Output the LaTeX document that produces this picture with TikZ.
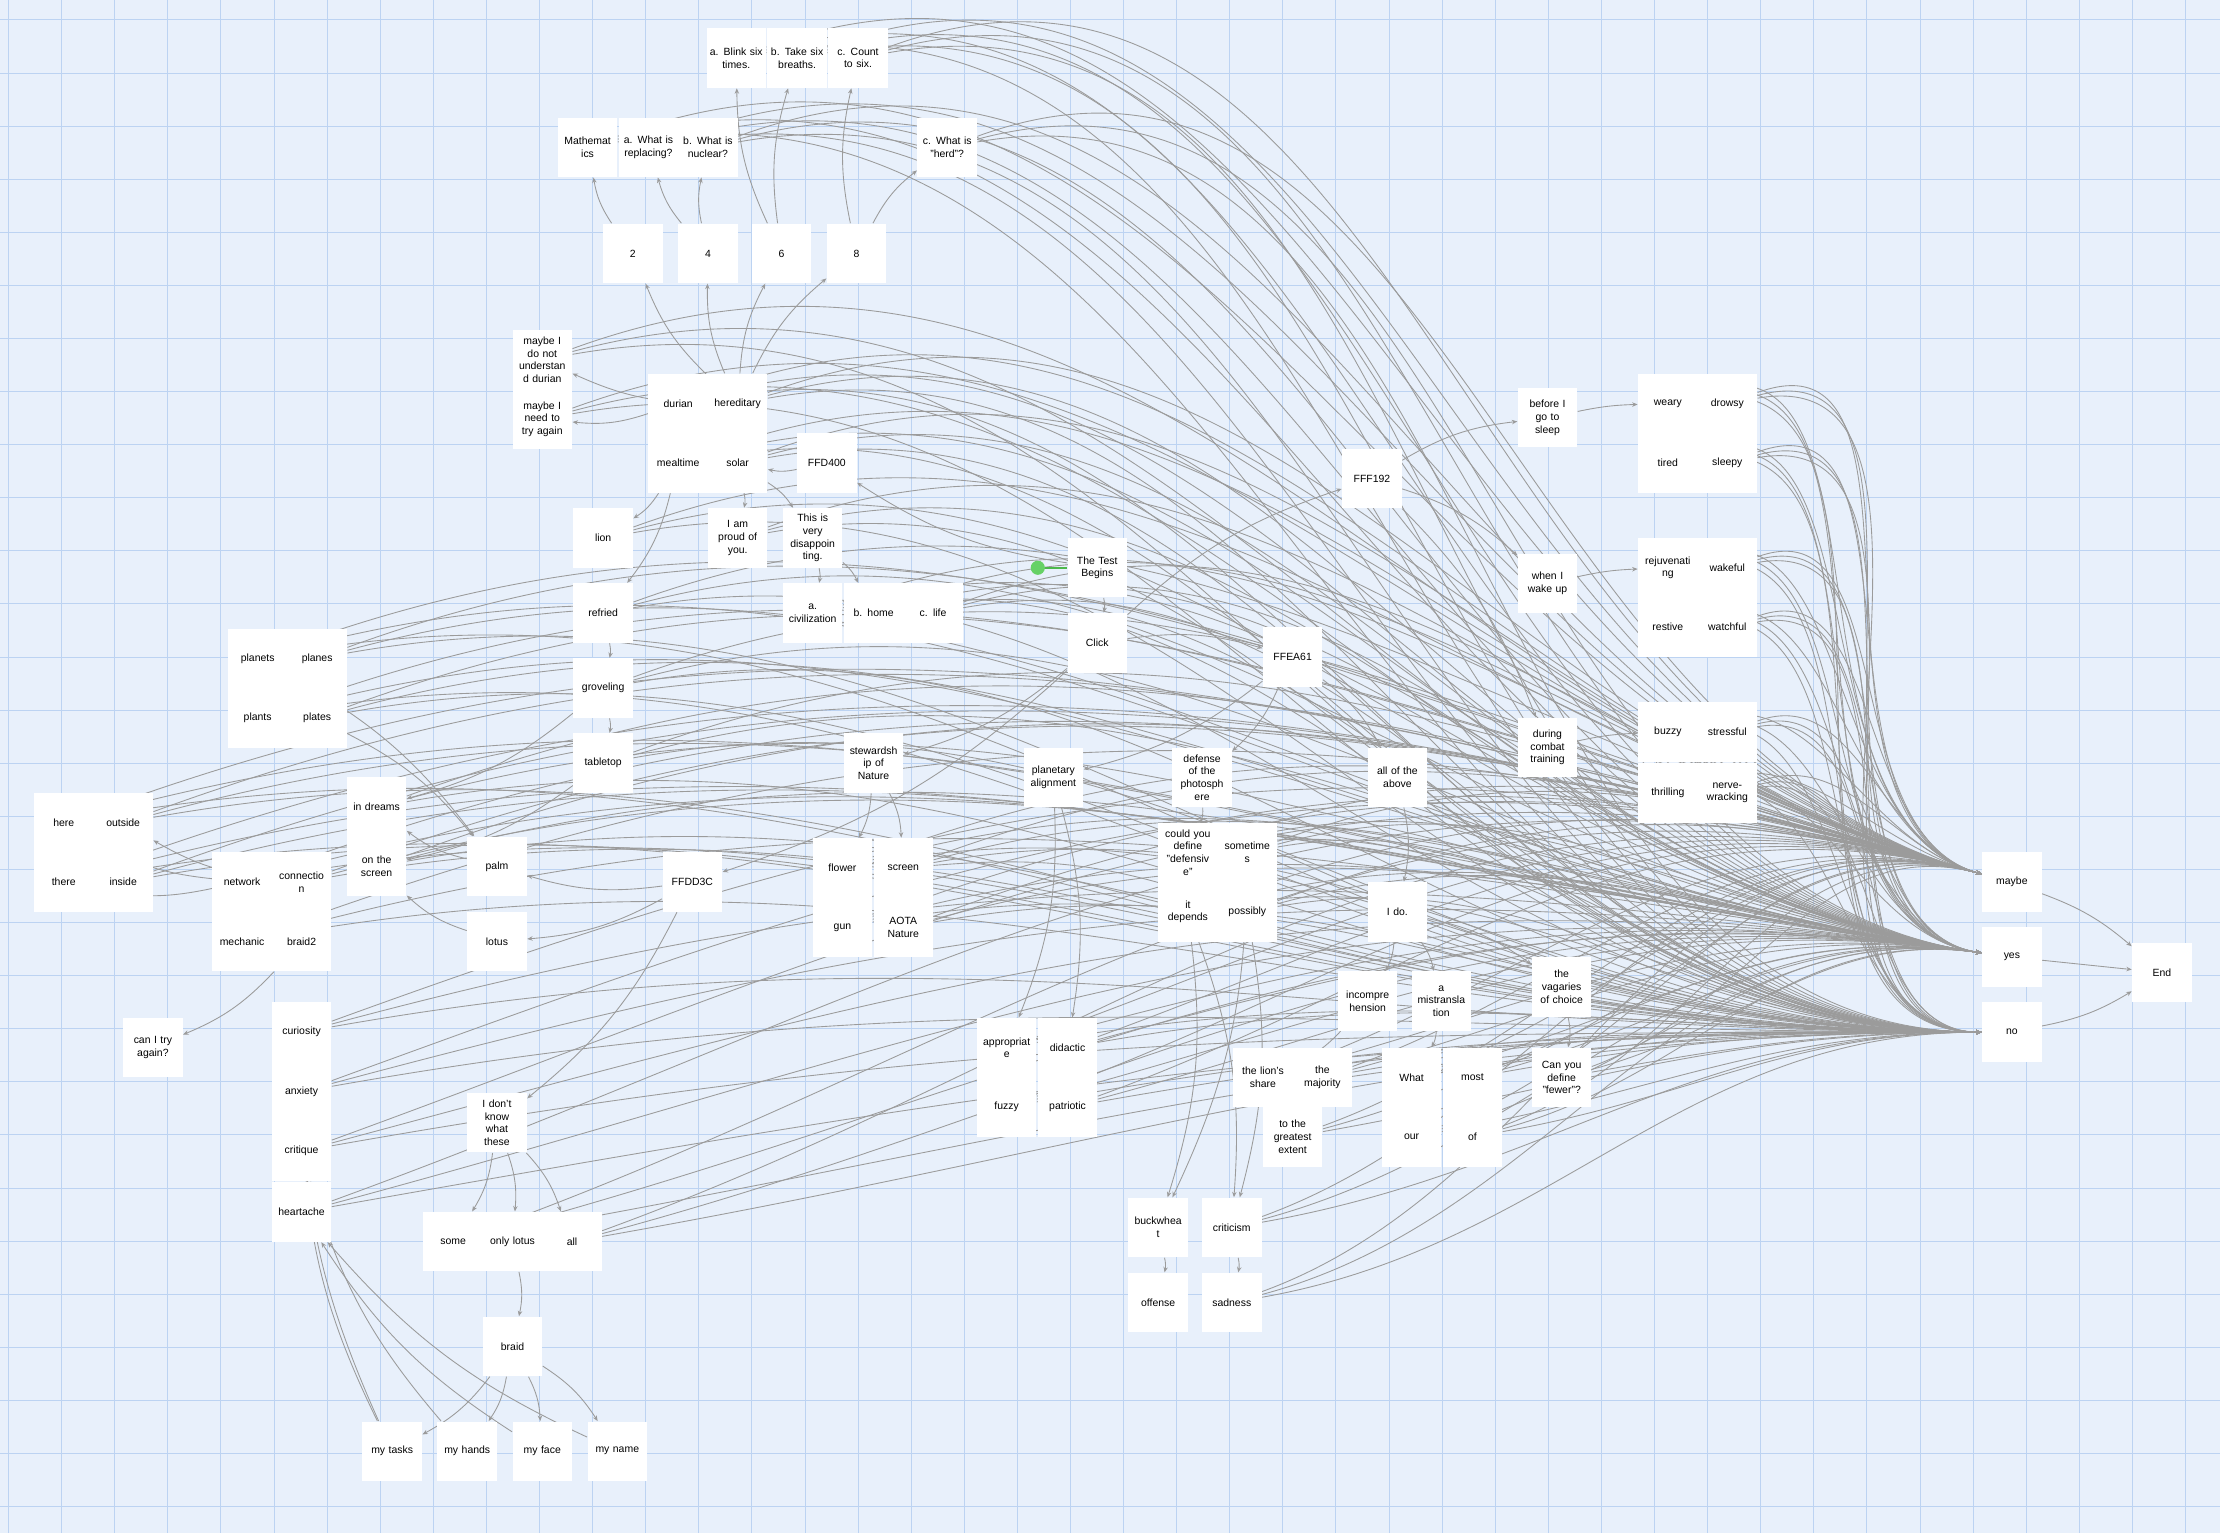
\documentclass[tikz,border=0pt]{standalone}
\usepackage{fontspec}
\setmainfont{Liberation Sans}
\usetikzlibrary{arrows.meta}
\pgfdeclarelayer{edges}
\pgfdeclarelayer{bgl}
\pgfsetlayers{bgl,edges,main}
\definecolor{bg}{HTML}{E8F0FB}
\definecolor{gridc}{HTML}{BCD3F2}
\definecolor{edgec}{HTML}{9B9B9B}
\tikzset{
 cell/.style={fill=white, minimum width=0.84cm, minimum height=0.84cm, text width=0.84cm, align=center, inner sep=0pt, font=\fontsize{4.2}{5.1}\selectfont},
 edge/.style={draw=edgec, line width=0.35pt, -{Stealth[length=2.2pt,width=1.8pt]}},
}
\begin{document}
\begin{tikzpicture}[x=0.02cm,y=-0.02cm]
\useasboundingbox (0,0) rectangle (1568,1083);
\clip (0,0) rectangle (1568,1083);
\begin{pgfonlayer}{bgl}
\fill[bg] (0,0) rectangle (1568,1083);
\foreach \i in {0,...,41} {\draw[gridc,line width=0.3pt] ({6+37.5*\i},0) -- ({6+37.5*\i},1083);}
\foreach \i in {0,...,29} {\draw[gridc,line width=0.3pt] (0,{14+37.5*\i}) -- (1568,{14+37.5*\i});}
\end{pgfonlayer}
% nodes
\node[cell] (blink) at (520,41) {a. Blink six\\times.};
\node[cell] (take) at (563,41) {b. Take six\\breaths.};
\node[cell] (count) at (606,41) {c. Count\\to six.};
\node[cell] (math) at (415,104) {Mathemat\\ics};
\node[cell] (repl) at (458,104) {a. What is\\replacing?};
\node[cell] (nucl) at (500,104) {b. What is\\nuclear?};
\node[cell] (herd) at (669,104) {c. What is\\"herd"?};
\node[cell] (t2) at (447,179) {2};
\node[cell] (t4) at (500,179) {4};
\node[cell] (t6) at (552,179) {6};
\node[cell] (t8) at (605,179) {8};
\node[cell] (mdu) at (383,254) {maybe I\\do not\\understan\\d durian};
\node[cell] (mta) at (383,296) {maybe I\\need to\\try again};
\node[cell] (durian) at (479,285) {durian};
\node[cell] (hered) at (521,285) {hereditary};
\node[cell] (meal) at (479,327) {mealtime};
\node[cell] (solar) at (521,327) {solar};
\node[cell] (ffd400) at (584,327) {FFD400};
\node[cell] (lion) at (426,380) {lion};
\node[cell] (proud) at (521,380) {I am\\proud of\\you.};
\node[cell] (disap) at (574,380) {This is\\very\\disappoin\\ting.};
\node[cell] (test) at (775,401) {The Test\\Begins};
\node[cell] (refried) at (426,433) {refried};
\node[cell] (civ) at (574,433) {a.\\civilization};
\node[cell] (home) at (617,433) {b. home};
\node[cell] (life) at (659,433) {c. life};
\node[cell] (click) at (775,454) {Click};
\node[cell] (ffea61) at (913,464) {FFEA61};
\node[cell] (fff192) at (969,338) {FFF192};
\node[cell] (before) at (1093,295) {before I\\go to\\sleep};
\node[cell] (weary) at (1178,285) {weary};
\node[cell] (drowsy) at (1220,285) {drowsy};
\node[cell] (tired) at (1178,327) {tired};
\node[cell] (sleepy) at (1220,327) {sleepy};
\node[cell] (wake) at (1093,412) {when I\\wake up};
\node[cell] (rejuv) at (1178,401) {rejuvenati\\ng};
\node[cell] (wakef) at (1220,401) {wakeful};
\node[cell] (restive) at (1178,443) {restive};
\node[cell] (watch) at (1220,443) {watchful};
\node[cell] (combat) at (1093,528) {during\\combat\\training};
\node[cell] (buzzy) at (1178,517) {buzzy};
\node[cell] (stress) at (1220,517) {stressful};
\node[cell] (thrill) at (1178,560) {thrilling};
\node[cell] (nerve) at (1220,560) {nerve-\\wracking};
\node[cell] (planets) at (182,465) {planets};
\node[cell] (planes) at (224,465) {planes};
\node[cell] (plants) at (182,507) {plants};
\node[cell] (plates) at (224,507) {plates};
\node[cell] (grovel) at (426,486) {groveling};
\node[cell] (table) at (426,539) {tabletop};
\node[cell] (stew) at (617,539) {stewardsh\\ip of\\Nature};
\node[cell] (planet) at (744,549) {planetary\\alignment};
\node[cell] (defense) at (849,549) {defense\\of the\\photosph\\ere};
\node[cell] (allabove) at (987,549) {all of the\\above};
\node[cell] (here) at (45,581) {here};
\node[cell] (outside) at (87,581) {outside};
\node[cell] (there) at (45,623) {there};
\node[cell] (inside) at (87,623) {inside};
\node[cell] (dreams) at (266,570) {in dreams};
\node[cell] (onscr) at (266,612) {on the\\screen};
\node[cell] (network) at (171,623) {network};
\node[cell] (conn) at (213,623) {connectio\\n};
\node[cell] (mech) at (171,665) {mechanic};
\node[cell] (braid2) at (213,665) {braid2};
\node[cell] (palm) at (351,612) {palm};
\node[cell] (lotus) at (351,665) {lotus};
\node[cell] (ffdd3c) at (489,623) {FFDD3C};
\node[cell] (flower) at (595,613) {flower};
\node[cell] (screen) at (638,613) {screen};
\node[cell] (gun) at (595,655) {gun};
\node[cell] (aota) at (638,655) {AOTA\\Nature};
\node[cell] (couldu) at (839,602) {could you\\define\\"defensiv\\e"};
\node[cell] (sometimes) at (881,602) {sometime\\s};
\node[cell] (depends) at (839,644) {it\\depends};
\node[cell] (possibly) at (881,644) {possibly};
\node[cell] (ido) at (987,644) {I do.};
\node[cell] (maybe) at (1421,623) {maybe};
\node[cell] (yes) at (1421,676) {yes};
\node[cell] (no) at (1421,729) {no};
\node[cell] (end) at (1527,687) {End};
\node[cell] (tryagain) at (108,740) {can I try\\again?};
\node[cell] (curio) at (213,729) {curiosity};
\node[cell] (anx) at (213,771) {anxiety};
\node[cell] (crit) at (213,813) {critique};
\node[cell] (heart) at (213,856) {heartache};
\node[cell] (incomp) at (966,707) {incompre\\hension};
\node[cell] (mistr) at (1018,707) {a\\mistransla\\tion};
\node[cell] (vag) at (1103,697) {the\\vagaries\\of choice};
\node[cell] (fewer) at (1103,761) {Can you\\define\\"fewer"?};
\node[cell] (approp) at (711,740) {appropriat\\e};
\node[cell] (didac) at (754,740) {didactic};
\node[cell] (fuzzy) at (711,782) {fuzzy};
\node[cell] (patri) at (754,782) {patriotic};
\node[cell] (lions) at (892,761) {the lion's\\share};
\node[cell] (major) at (934,761) {the\\majority};
\node[cell] (great) at (913,803) {to the\\greatest\\extent};
\node[cell] (what) at (997,761) {What};
\node[cell] (most) at (1040,761) {most};
\node[cell] (our) at (997,803) {our};
\node[cell] (of) at (1040,803) {of};
\node[cell] (dontknow) at (351,793) {I don't\\know\\what\\these};
\node[cell] (some) at (320,877) {some};
\node[cell] (onlylotus) at (362,877) {only lotus};
\node[cell] (all) at (404,877) {all};
\node[cell] (buck) at (818,867) {buckwhea\\t};
\node[cell] (criticism) at (870,867) {criticism};
\node[cell] (offense) at (818,920) {offense};
\node[cell] (sadness) at (870,920) {sadness};
\node[cell] (braid) at (362,951) {braid};
\node[cell] (tasks) at (277,1025) {my tasks};
\node[cell] (hands) at (330,1025) {my hands};
\node[cell] (face) at (383,1025) {my face};
\node[cell] (name) at (436,1025) {my name};
% green start marker
\coordinate (gdot) at (733,401);
\draw[green!60!black!70, line width=0.7pt] (gdot) -- (test.west);
\fill[green!70!black!60] (gdot) circle (5);
\begin{pgfonlayer}{edges}
\foreach \a/\b in {hered/t2,hered/t4,hered/t6,hered/t8,t4/repl,t4/nucl,t2/math,t6/blink,t6/take,t8/herd,t8/count,
 hered/mdu,durian/mta,ffd400/solar,test/ffd400,test/click,click/fff192,click/ffea61,click/stew,click/ffdd3c,
 fff192/before,fff192/wake,fff192/combat,meal/lion,meal/refried,solar/proud,solar/disap,disap/civ,disap/home,
 refried/grovel,grovel/table,ffea61/planet,ffea61/defense,ffea61/allabove,planet/approp,planet/didac,defense/couldu,
 allabove/ido,ido/incomp,ido/mistr,ido/vag,mistr/what,vag/fewer,incomp/lions,depends/buck,depends/criticism,
 buck/offense,criticism/sadness,stew/flower,stew/screen,ffdd3c/palm,ffdd3c/lotus,ffdd3c/dontknow,palm/dreams,
 lotus/onscr,network/here,network/there,conn/outside,braid2/tryagain,dontknow/some,dontknow/onlylotus,dontknow/all,
 onlylotus/braid,braid/tasks,braid/hands,braid/face,braid/name,tasks/curio,tasks/anx,hands/crit,face/heart,name/heart,
 planets/palm,plates/palm,table/onscr,grovel/dreams,screen/possibly,possibly/criticism,sometimes/buck}
 {\draw[edge] (\a) to[bend left=12] (\b);}
\foreach \a in {blink,take,count,math,repl,nucl,herd,durian,hered,meal,solar,lion,proud,refried,civ,home,life,
 weary,drowsy,tired,sleepy,rejuv,wakef,restive,watch,buzzy,stress,thrill,nerve,planets,planes,plants,plates,
 grovel,table,here,outside,there,inside,flower,screen,gun,aota,couldu,sometimes,depends,possibly,
 network,conn,mech,approp,didac,fuzzy,patri,lions,major,great,what,most,our,of,curio,anx,crit,heart,
 some,all,criticism,sadness,fewer,dreams,onscr,mdu,mta}
 {\draw[edge] (\a) to[out=20,in=165] (maybe);
  \draw[edge] (\a) to[out=15,in=172] (yes);
  \draw[edge] (\a) to[out=10,in=180] (no);}
\draw[edge] (maybe) to[bend left=10] (end);
\draw[edge] (yes) -- (end);
\draw[edge] (no) to[bend right=10] (end);
\draw[edge] (before) to[bend left=5] (weary);
\draw[edge] (wake) to[bend left=5] (rejuv);
\draw[edge] (combat) to[bend left=5] (buzzy);
\end{pgfonlayer}
\end{tikzpicture}
\end{document}
